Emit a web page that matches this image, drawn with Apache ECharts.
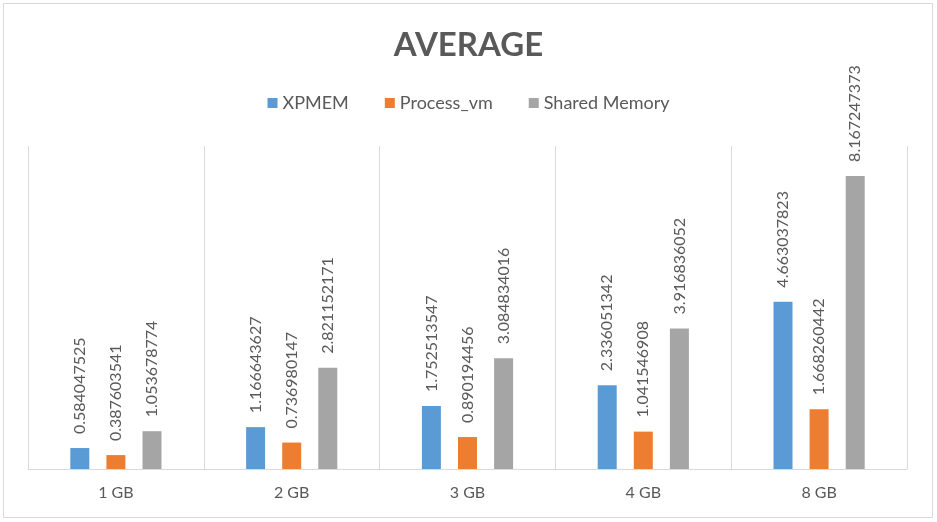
<!DOCTYPE html>
<html>
<head>
<meta charset="utf-8">
<script src="https://cdn.jsdelivr.net/npm/echarts@6/dist/echarts.min.js"></script>
<style>
  html, body { margin: 0; padding: 0; background: #fff; }
  #chart { width: 937px; height: 522px; }
</style>
</head>
<body>
<div id="chart"></div>
<script>
const categories = ['1 GB', '2 GB', '3 GB', '4 GB', '8 GB'];
const xpmem = [0.584047525, 1.166643627, 1.752513547, 2.336051342, 4.663037823];
const processVm = [0.387603541, 0.736980147, 0.890194456, 1.041546908, 1.668260442];
const sharedMemory = [1.053678774, 2.821152171, 3.084834016, 3.916836052, 8.167247373];

const chartDom = document.getElementById('chart');
const myChart = echarts.init(chartDom);

const textColor = '#595959';
const fontName = 'Lato, "Noto Sans", sans-serif';

function barSeries(name, data, color) {
  return {
    name: name,
    type: 'bar',
    data: data,
    barWidth: 19,
    barGap: '90%',
    itemStyle: { color: color },
    label: {
      show: true,
      position: 'top',
      rotate: 90,
      align: 'left',
      verticalAlign: 'middle',
      distance: 14,
      color: textColor,
      fontFamily: fontName,
      fontSize: 16,
      formatter: (p) => String(p.value)
    }
  };
}

const option = {
  backgroundColor: '#fff',
  animation: false,
  title: {
    text: 'AVERAGE',
    left: 'center',
    top: 24,
    textStyle: {
      color: textColor,
      fontFamily: fontName,
      fontSize: 33,
      fontWeight: 'bold'
    }
  },
  legend: {
    top: 89,
    left: 'center',
    itemWidth: 10,
    itemHeight: 10,
    itemGap: 36,
    icon: 'rect',
    textStyle: { color: textColor, fontFamily: fontName, fontSize: 18 },
    data: ['XPMEM', 'Process_vm', 'Shared Memory']
  },
  grid: { left: 28, right: 30, top: 146, bottom: 53 },
  xAxis: {
    type: 'category',
    data: categories,
    axisLine: { lineStyle: { color: '#d9d9d9', width: 1 } },
    axisTick: { show: false },
    axisLabel: {
      color: textColor,
      fontFamily: fontName,
      fontSize: 16,
      margin: 16
    },
    splitLine: { show: true, lineStyle: { color: '#d9d9d9', width: 1 } }
  },
  yAxis: {
    type: 'value',
    min: 0,
    max: 9,
    show: false,
    splitLine: { show: false }
  },
  graphic: [{
    type: 'rect',
    shape: { x: 3.5, y: 3.5, width: 929, height: 514 },
    style: { fill: null, stroke: '#d9d9d9', lineWidth: 1 },
    silent: true,
    z: -1
  }],
  series: [
    barSeries('XPMEM', xpmem, '#5B9BD5'),
    barSeries('Process_vm', processVm, '#ED7D31'),
    barSeries('Shared Memory', sharedMemory, '#A5A5A5')
  ]
};

myChart.setOption(option);
</script>
</body>
</html>
